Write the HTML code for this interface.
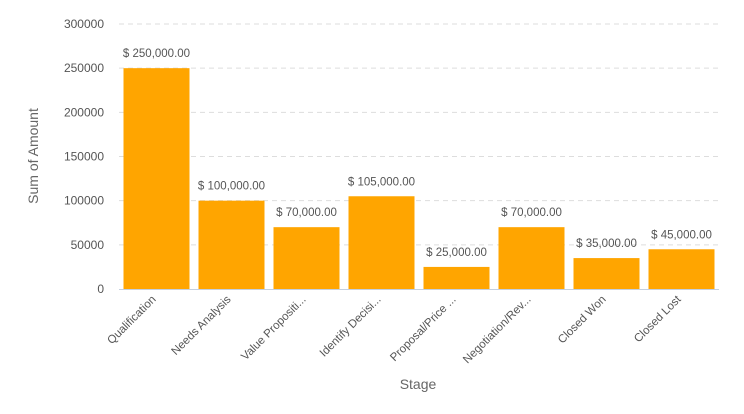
<!DOCTYPE html>
<html><head><meta charset="utf-8"><style>
html,body{margin:0;padding:0;background:#fff;}
svg{display:block;font-family:"Liberation Sans",sans-serif;}
</style></head><body>
<svg id="chart" width="744" height="414"></svg>
<script>
const categories=["Qualification","Needs Analysis","Value Propositi...","Identify Decisi...","Proposal/Price ...","Negotiation/Rev...","Closed Won","Closed Lost"];
const values=[250000,100000,70000,105000,25000,70000,35000,45000];
const valueLabels=["$ 250,000.00","$ 100,000.00","$ 70,000.00","$ 105,000.00","$ 25,000.00","$ 70,000.00","$ 35,000.00","$ 45,000.00"];
const yTicks=[0,50000,100000,150000,200000,250000,300000];

const NS="http://www.w3.org/2000/svg";
const svg=document.getElementById('chart');
const x0=119,x1=719,yBase=289,yTop=24,yMax=300000;
const band=(x1-x0)/categories.length;
function yScale(v){return yBase-(v/yMax)*(yBase-yTop);}
function xScale(i){return x0+i*band;}
function mk(tag,attrs,text){const e=document.createElementNS(NS,tag);for(const k in attrs)e.setAttribute(k,attrs[k]);if(text!==undefined)e.textContent=text;svg.appendChild(e);return e;}

yTicks.forEach(t=>{
  const y=yScale(t);
  if(t>0){const g=mk('line',{x1:x0,x2:x1,y1:y,y2:y,stroke:'#dddddd','stroke-dasharray':'5,4'});
  
  }
  const l=mk('text',{x:104,y:y+4,'text-anchor':'end','font-size':12,fill:'#555'},String(t));
  
  
});
const ax=mk('line',{x1:x0,x2:x1,y1:yBase+0.5,y2:yBase+0.5,stroke:'#c5d0e0'});



categories.forEach((c,i)=>{
  const bx=xScale(i)+4.5,bw=66,y=yScale(values[i]);
  const r=mk('rect',{x:bx,y:y,width:bw,height:yBase-y,fill:'#ffa500'});
  
  
  const vl=mk('text',{x:bx+bw/2,y:y-11,'text-anchor':'middle','font-size':11.5,fill:'#555'},valueLabels[i]);
  
  
  const cx=bx+bw/2;
  const cl=mk('text',{x:cx,y:300,'text-anchor':'end','font-size':11.5,fill:'#555',transform:'rotate(-45 '+cx+' 300)'},c);
  
  
});
const yt=mk('text',{x:38,y:156,'text-anchor':'middle','font-size':14,fill:'#666',transform:'rotate(-90 38 156)'},'Sum of Amount');


const xt=mk('text',{x:418,y:389,'text-anchor':'middle','font-size':14,fill:'#666'},'Stage');


</script>
</body></html>
